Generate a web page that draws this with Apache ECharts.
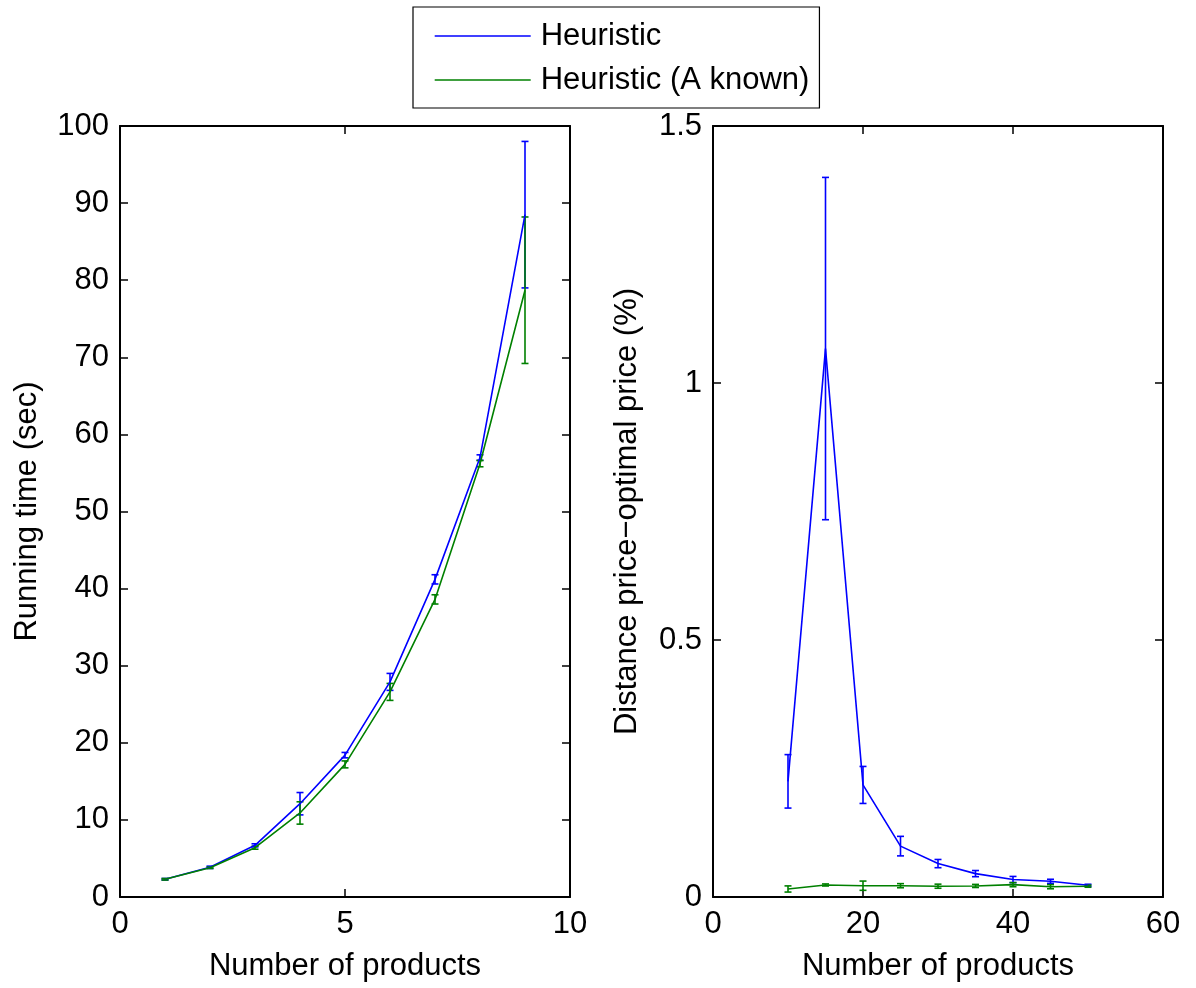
<!DOCTYPE html>
<html>
<head>
<meta charset="utf-8">
<title>Heuristic running time and price distance</title>
<script src="https://cdn.jsdelivr.net/npm/echarts@6/dist/echarts.min.js"></script>
<style>
  html, body { margin: 0; padding: 0; background: #fff; }
  #chart { width: 1196px; height: 988px; }
</style>
</head>
<body>
<div id="chart"></div>
<script>
// Left panel: running time vs number of products
const timeX = [1, 2, 3, 4, 5, 6, 7, 8, 9];
const heurTime = [2.3, 3.85, 6.7, 12.1, 18.4, 27.9, 41.2, 57.0, 88.5];
const heurTimeErr = [0.1, 0.15, 0.2, 1.45, 0.35, 1.1, 0.6, 0.35, 9.5];
const knownTime = [2.3, 3.8, 6.4, 10.9, 17.2, 26.6, 38.6, 56.2, 78.7];
const knownTimeErr = [0.1, 0.1, 0.2, 1.45, 0.45, 1.1, 0.6, 0.4, 9.5];

// Right panel: distance to optimal price vs number of products
const distX = [10, 15, 20, 25, 30, 35, 40, 45, 50];
const heurDist = [0.225, 1.067, 0.218, 0.099, 0.065, 0.0455, 0.034, 0.0305, 0.0228];
const heurDistErr = [0.052, 0.333, 0.036, 0.019, 0.008, 0.006, 0.006, 0.004, 0.002];
const knownDist = [0.0156, 0.0234, 0.022, 0.022, 0.021, 0.0215, 0.024, 0.020, 0.021];
const knownDistErr = [0.006, 0.002, 0.009, 0.004, 0.004, 0.003, 0.004, 0.004, 0.002];

const seriesNames = ['Heuristic', 'Heuristic (A known)'];
const BLUE = '#0000ff';
const GREEN = '#008000';
const FONT = 'Liberation Sans, Arial, Helvetica, sans-serif';
const FS = 31;
const LW = 1.6;

function pairs(xs, ys) { return xs.map((x, i) => [x, ys[i]]); }
function bars(xs, ys, es) { return xs.map((x, i) => [x, ys[i] - es[i], ys[i] + es[i]]); }

function errorBarSeries(name, color, xi, yi, data) {
  return {
    type: 'custom', name: name, xAxisIndex: xi, yAxisIndex: yi,
    data: data, z: 3, silent: true,
    encode: { x: 0, y: [1, 2] },
    renderItem: function (params, api) {
      const x = api.value(0);
      const lo = api.coord([x, api.value(1)]);
      const hi = api.coord([x, api.value(2)]);
      const w = 3.5;
      const st = { stroke: color, lineWidth: LW, fill: null };
      return {
        type: 'group',
        children: [
          { type: 'line', shape: { x1: lo[0], y1: lo[1], x2: hi[0], y2: hi[1] }, style: st },
          { type: 'line', shape: { x1: lo[0] - w, y1: lo[1], x2: lo[0] + w, y2: lo[1] }, style: st },
          { type: 'line', shape: { x1: hi[0] - w, y1: hi[1], x2: hi[0] + w, y2: hi[1] }, style: st }
        ]
      };
    }
  };
}

function lineSeries(name, color, xi, yi, data) {
  return {
    type: 'line', name: name, xAxisIndex: xi, yAxisIndex: yi,
    data: data, symbol: 'none', z: 4,
    lineStyle: { color: color, width: LW },
    itemStyle: { color: color }
  };
}

const axisLine = { show: true, onZero: false, lineStyle: { color: '#000', width: 2 } };
const axisTick = { show: true, inside: true, length: 8, lineStyle: { color: '#000', width: 1.5 } };
const label = { color: '#000', fontSize: FS, fontFamily: FONT };
const nameStyle = { color: '#000', fontSize: FS, fontFamily: FONT };

function mainX(grid, max, interval, name) {
  return {
    type: 'value', gridIndex: grid, position: 'bottom', min: 0, max: max, interval: interval,
    axisLine: axisLine, axisTick: axisTick, splitLine: { show: false },
    axisLabel: Object.assign({ margin: 12 }, label),
    name: name, nameLocation: 'middle', nameGap: 54, nameTextStyle: nameStyle
  };
}
function topX(grid, max, interval) {
  return {
    type: 'value', gridIndex: grid, position: 'top', min: 0, max: max, interval: interval,
    axisLine: axisLine, axisTick: axisTick, splitLine: { show: false }, axisLabel: { show: false }
  };
}
function mainY(grid, max, interval, name, gap) {
  return {
    type: 'value', gridIndex: grid, position: 'left', min: 0, max: max, interval: interval,
    axisLine: axisLine, axisTick: axisTick, splitLine: { show: false },
    axisLabel: Object.assign({ margin: 11 }, label),
    name: name, nameLocation: 'middle', nameGap: gap, nameTextStyle: nameStyle
  };
}
function rightY(grid, max, interval) {
  return {
    type: 'value', gridIndex: grid, position: 'right', min: 0, max: max, interval: interval,
    axisLine: axisLine, axisTick: axisTick, splitLine: { show: false }, axisLabel: { show: false }
  };
}

const option = {
  animation: false,
  backgroundColor: '#fff',
  textStyle: { fontFamily: FONT },
  legend: {
    data: seriesNames,
    orient: 'vertical',
    left: 413, top: 7,
    padding: [13, 10, 12, 21],
    itemGap: 12,
    itemWidth: 96, itemHeight: 14,
    borderColor: '#000', borderWidth: 1.2,
    backgroundColor: '#fff',
    itemStyle: { opacity: 0 },
    lineStyle: { width: 1.4 },
    textStyle: { color: '#000', fontSize: FS, fontFamily: FONT, lineHeight: 32, padding: [0, 0, 0, 5] },
    selectedMode: false
  },
  grid: [
    { left: 120, right: 626, top: 126, bottom: 91 },
    { left: 713, right: 33, top: 126, bottom: 91 }
  ],
  xAxis: [
    mainX(0, 10, 5, 'Number of products'),
    topX(0, 10, 5),
    mainX(1, 60, 20, 'Number of products'),
    topX(1, 60, 20)
  ],
  yAxis: [
    mainY(0, 100, 10, 'Running time (sec)', 77),
    rightY(0, 100, 10),
    mainY(1, 1.5, 0.5, 'Distance price\u2212optimal price (%)', 70),
    rightY(1, 1.5, 0.5)
  ],
  series: [
    lineSeries(seriesNames[0], BLUE, 0, 0, pairs(timeX, heurTime)),
    lineSeries(seriesNames[1], GREEN, 0, 0, pairs(timeX, knownTime)),
    errorBarSeries(seriesNames[0], BLUE, 0, 0, bars(timeX, heurTime, heurTimeErr)),
    errorBarSeries(seriesNames[1], GREEN, 0, 0, bars(timeX, knownTime, knownTimeErr)),
    lineSeries(seriesNames[0], BLUE, 2, 2, pairs(distX, heurDist)),
    lineSeries(seriesNames[1], GREEN, 2, 2, pairs(distX, knownDist)),
    errorBarSeries(seriesNames[0], BLUE, 2, 2, bars(distX, heurDist, heurDistErr)),
    errorBarSeries(seriesNames[1], GREEN, 2, 2, bars(distX, knownDist, knownDistErr))
  ]
};

const chart = echarts.init(document.getElementById('chart'), null, { renderer: 'canvas' });
chart.setOption(option);
</script>
</body>
</html>
